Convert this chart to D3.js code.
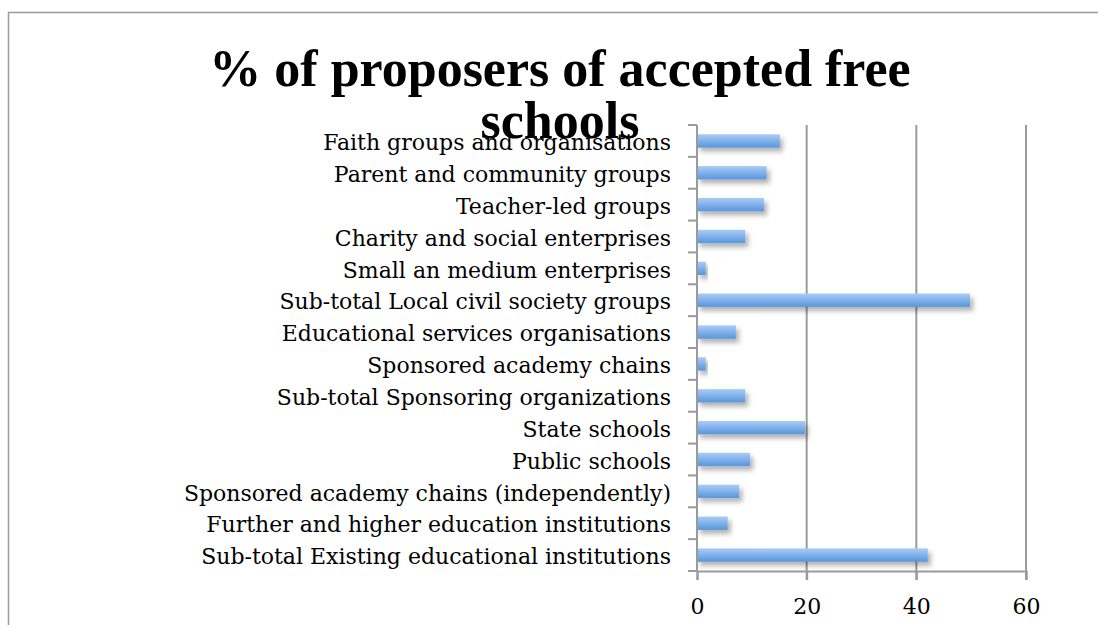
<!DOCTYPE html>
<html>
<head>
<meta charset="utf-8">
<script src="https://cdn.jsdelivr.net/npm/d3@7"></script>
<style>
  html, body { margin: 0; padding: 0; background: #fff; }
  svg { display: block; }
</style>
</head>
<body>
<svg id="chart" width="1098" height="625"></svg>
<script>
const categories = [
  'Faith groups and organisations',
  'Parent and community groups',
  'Teacher-led groups',
  'Charity and social enterprises',
  'Small an medium enterprises',
  'Sub-total Local civil society groups',
  'Educational services organisations',
  'Sponsored academy chains',
  'Sub-total Sponsoring organizations',
  'State schools',
  'Public schools',
  'Sponsored academy chains (independently)',
  'Further and higher education institutions',
  'Sub-total Existing educational institutions'
]
const values = [15.1, 12.7, 12.2, 8.8, 1.6, 49.8, 7.1, 1.6, 8.8, 19.7, 9.7, 7.7, 5.6, 42.1]
const xTicks = [0, 20, 40, 60]
const titleLines = ['% of proposers of accepted free', 'schools']

const svg = d3.select('#chart')
const width = 1098
const height = 625
const margin = { top: 125, right: 72, bottom: 54, left: 697 }
const labelFont = '"DejaVu Serif", serif'
const titleFont = '"Liberation Serif", serif'

const xScale = d3.scaleLinear().domain([0, 60]).range([margin.left, width - margin.right])
const yScale = d3.scaleBand()
  .domain(categories)
  .range([margin.top, height - margin.bottom])
  .paddingInner(0.58)
  .paddingOuter(0.29)

const defs = svg.append('defs')
const grad = defs.append('linearGradient')
  .attr('id', 'barGrad')
  .attr('x1', 0).attr('y1', 0).attr('x2', 0).attr('y2', 1)
grad.append('stop').attr('offset', '0%').attr('stop-color', '#a9cbf8')
grad.append('stop').attr('offset', '100%').attr('stop-color', '#5897dc')

const shadow = defs.append('filter').attr('id', 'shadow')
  .attr('x', '-10%').attr('y', '-30%').attr('width', '130%').attr('height', '190%')
shadow.append('feDropShadow')
  .attr('dx', 3).attr('dy', 4).attr('stdDeviation', 2.5)
  .attr('flood-color', '#000').attr('flood-opacity', 0.3)

// outer frame
svg.append('path')
  .attr('d', `M8.5,${height} L8.5,12.5 L${width},12.5`)
  .attr('fill', 'none')
  .attr('stroke', '#9a9a9a')
  .attr('stroke-width', 1.5)

// vertical gridlines
svg.append('g')
  .selectAll('line')
  .data(xTicks.slice(1))
  .enter().append('line')
    .attr('x1', d => xScale(d)).attr('x2', d => xScale(d))
    .attr('y1', margin.top).attr('y2', height - margin.bottom + 9)
    .attr('stroke', '#9a9a9a')
    .attr('stroke-width', 2)

// bars
svg.append('g')
  .selectAll('rect')
  .data(values)
  .enter().append('rect')
    .attr('x', xScale(0))
    .attr('y', (d, i) => yScale(categories[i]))
    .attr('width', d => xScale(d) - xScale(0))
    .attr('height', yScale.bandwidth())
    .attr('fill', 'url(#barGrad)')
    .attr('filter', 'url(#shadow)')

// x axis
const xAxis = d3.axisBottom(xScale).tickValues(xTicks).tickSize(9).tickPadding(18)
const gx = svg.append('g')
  .attr('transform', `translate(0, ${height - margin.bottom})`)
  .call(xAxis)
gx.select('.domain').attr('stroke', '#9a9a9a').attr('stroke-width', 2)
gx.selectAll('.tick line').attr('stroke', '#9a9a9a').attr('stroke-width', 2)
gx.selectAll('.tick text')
  .attr('font-family', labelFont)
  .attr('font-size', 22)
  .attr('fill', '#000')

// y axis: ticks between categories
const step = yScale.step()
const boundaries = d3.range(categories.length + 1).map(i => margin.top + i * step)
const gy = svg.append('g')
gy.append('line')
  .attr('x1', xScale(0)).attr('x2', xScale(0))
  .attr('y1', margin.top).attr('y2', height - margin.bottom)
  .attr('stroke', '#9a9a9a').attr('stroke-width', 2)
gy.selectAll('.ytick')
  .data(boundaries)
  .enter().append('line')
    .attr('class', 'ytick')
    .attr('x1', xScale(0) - 9).attr('x2', xScale(0))
    .attr('y1', d => d).attr('y2', d => d)
    .attr('stroke', '#9a9a9a').attr('stroke-width', 2)
gy.selectAll('.ylabel')
  .data(categories)
  .enter().append('text')
    .attr('class', 'ylabel')
    .attr('x', xScale(0) - 26)
    .attr('y', d => yScale(d) + yScale.bandwidth() / 2)
    .attr('dy', '0.42em')
    .attr('text-anchor', 'end')
    .attr('font-family', labelFont)
    .attr('font-size', 22)
    .attr('fill', '#000')
    .text(d => d)

// title
svg.append('g')
  .selectAll('text')
  .data(titleLines)
  .enter().append('text')
    .attr('x', 560)
    .attr('y', (d, i) => 86 + i * 52)
    .attr('text-anchor', 'middle')
    .attr('font-family', titleFont)
    .attr('font-weight', 'bold')
    .attr('font-size', 52)
    .attr('fill', '#000')
    .text(d => d)
</script>
</body>
</html>
